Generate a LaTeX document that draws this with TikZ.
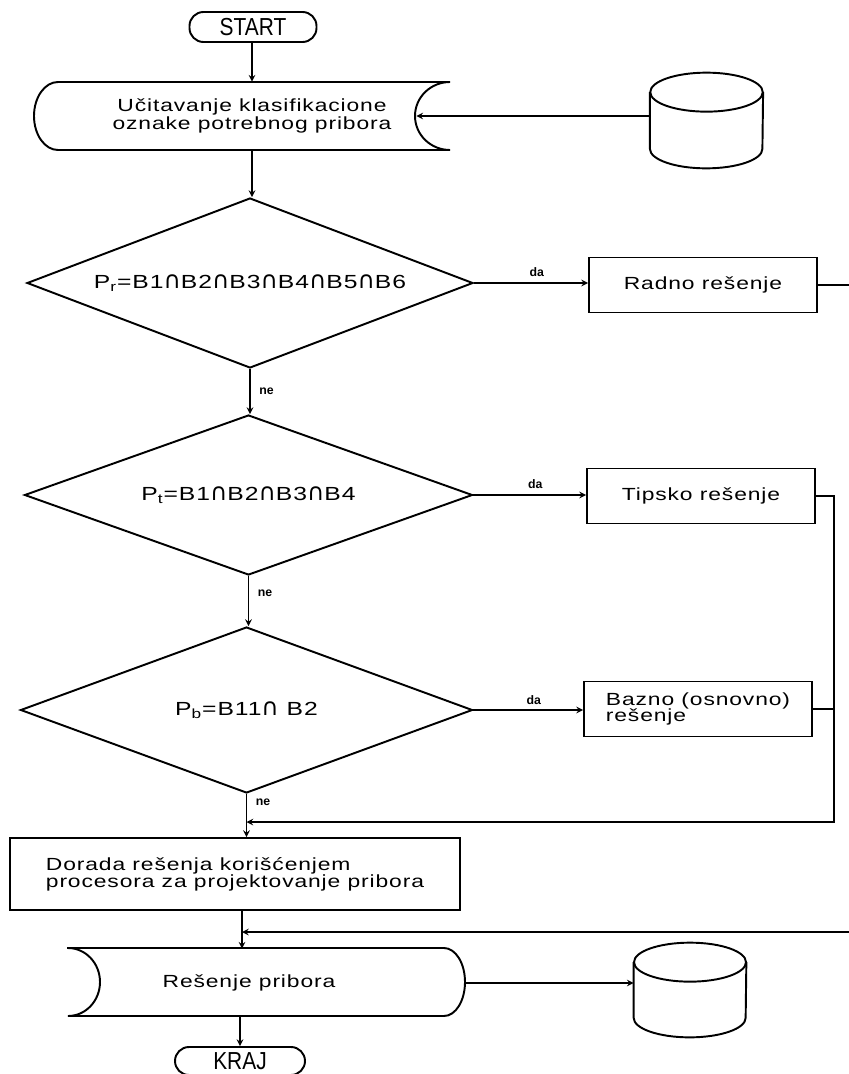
\documentclass[tikz,border=0pt]{standalone}
\usepackage{fontspec}
\setmainfont{Liberation Sans}
\newfontfamily\lettering[FakeStretch=1.3,LetterSpace=5]{Liberation Sans}
\newfontfamily\narrowlettering[FakeStretch=0.85]{Liberation Sans}
\newfontfamily\symbolfont{DejaVu Sans}
\newcommand{\isect}{{\symbolfont\fontsize{13.5}{13.5}\selectfont ∩}}
\usetikzlibrary{shapes.geometric}

\begin{document}
\begin{tikzpicture}[
    box/.style={draw, line width=1.1pt, inner sep=0pt, font=\lettering\fontsize{10}{9.5}\selectfont},
    term/.style={draw, line width=1.1pt, rounded corners=0.28cm, minimum height=0.6cm, inner sep=0pt, font=\narrowlettering\fontsize{14}{14}\selectfont},
    proc/.style={box, minimum width=4.56cm, minimum height=1.1cm},
    decision/.style={diamond, box, aspect=2.6, font=\lettering\fontsize{10.8}{11}\selectfont},
    shell/.style={inner sep=0pt, align=center, font=\lettering\fontsize{10}{9}\selectfont},
    drum/.style={minimum width=2.25cm, minimum height=1.9cm, inner sep=0pt},
    outline/.style={line width=1.1pt},
    line/.style={line width=0.7pt},
    arrow/.style={->, >=stealth, line width=0.7pt},
    tag/.style={font=\bfseries\fontsize{7}{7}\selectfont, inner sep=1pt}
]
\useasboundingbox (0,0) rectangle (16.98,-21.48);

% Start
\node[term, minimum width=2.54cm] (start) at (5.06,-0.54) {START};

% Reading the classification code (stored data)
\node[shell, minimum width=6.56cm, minimum height=1.36cm] (read) at (5.04,-2.32) {Učitavanje klasifikacione\\oznake potrebnog pribora};
\draw[outline] (1.16,-1.64) -- (9.00,-1.64) arc[start angle=90, end angle=270, x radius=0.70, y radius=0.68]
    -- (1.16,-3.00) arc[start angle=270, end angle=90, x radius=0.48, y radius=0.68] -- cycle;

% Input database
\node[drum] (db1) at (14.13,-2.41) {};
\draw[outline] ([yshift=-0.39cm]db1.north west) -- ([yshift=0.39cm]db1.south west)
    arc[start angle=180, end angle=360, x radius=1.125cm, y radius=0.39cm] -- ([yshift=-0.39cm]db1.north east);
\draw[outline] ([yshift=-0.39cm]db1.north) ellipse [x radius=1.125cm, y radius=0.39cm];

% Decisions and solutions
\node[decision, minimum width=8.92cm, minimum height=3.40cm] (d1) at (5.00,-5.66) {P\textsubscript{r}=B1\isect B2\isect B3\isect B4\isect B5\isect B6};
\node[proc] (radno) at (14.06,-5.70) {Radno rešenje};

\node[decision, minimum width=8.96cm, minimum height=3.20cm] (d2) at (4.97,-9.90) {P\textsubscript{t}=B1\isect B2\isect B3\isect B4};
\node[proc] (tipsko) at (14.02,-9.92) {Tipsko rešenje};

\node[decision, minimum width=9.04cm, minimum height=3.32cm] (d3) at (4.93,-14.20) {P\textsubscript{b}=B11\isect{} B2};
\node[proc, align=left] (bazno) at (13.96,-14.18) {Bazno (osnovno)\\rešenje};

% Refinement
\node[box, minimum width=9.0cm, minimum height=1.44cm, align=left] (dorada) at (4.70,-17.48) {Dorada rešenja korišćenjem\\procesora za projektovanje pribora};

% Result (stored data)
\node[shell, minimum width=8.64cm, minimum height=1.36cm] (save) at (4.98,-19.66) {Rešenje pribora};
\draw[outline] (1.36,-18.96) -- (8.88,-18.96) arc[start angle=90, end angle=-90, x radius=0.42, y radius=0.68]
    -- (1.36,-20.32) arc[start angle=-90, end angle=90, x radius=0.64, y radius=0.68] -- cycle;

% Output database
\node[drum, minimum width=2.24cm, minimum height=1.88cm] (db2) at (13.80,-19.80) {};
\draw[outline] ([yshift=-0.39cm]db2.north west) -- ([yshift=0.39cm]db2.south west)
    arc[start angle=180, end angle=360, x radius=1.12cm, y radius=0.39cm] -- ([yshift=-0.39cm]db2.north east);
\draw[outline] ([yshift=-0.39cm]db2.north) ellipse [x radius=1.12cm, y radius=0.39cm];

% End
\node[term, minimum width=2.6cm, minimum height=0.56cm] (kraj) at (4.80,-21.22) {KRAJ};

% Junctions on the main line
\coordinate (rail) at ([xshift=0.36cm]tipsko.east);
\coordinate (join1) at (4.93,-16.44);
\coordinate (join2) at (4.84,-18.64);

% Flow
\draw[arrow] (start.south -| read.north) -- (read.north);
\draw[arrow] (db1.west |- read.east) -- (read.east);
\draw[arrow] (read.south) -- (read.south |- d1.north);
\draw[arrow] (d1.east) -- (d1.east -| radno.west) node[tag, above=2pt, pos=0.55] {da};
\draw[arrow] (d1.south) -- (d1.south |- d2.north) node[tag, right=4pt, pos=0.5] {ne};
\draw[arrow] (d2.east) -- (d2.east -| tipsko.west) node[tag, above=2pt, pos=0.55] {da};
\draw[arrow] (d2.south) -- (d2.south |- d3.north) node[tag, right=4pt, pos=0.35] {ne};
\draw[arrow] (d3.east) -- (d3.east -| bazno.west) node[tag, above=2pt, pos=0.55] {da};
\draw[arrow] (d3.south) -- (d3.south |- dorada.north) node[tag, right=4pt, pos=0.2] {ne};

% Returns from the solutions
\draw[arrow] (radno.east) -- ++(1.2,0) |- (join2);
\draw[arrow] (tipsko.east) -- (rail) |- (join1);
\draw[line] (bazno.east) -- (bazno.east -| rail);

\draw[arrow] (dorada.south -| join2) -- (save.north -| join2);
\draw[arrow] (save.east) -- (save.east -| db2.west);
\draw[arrow] (save.south -| kraj.north) -- (kraj.north);

\end{tikzpicture}
\end{document}
